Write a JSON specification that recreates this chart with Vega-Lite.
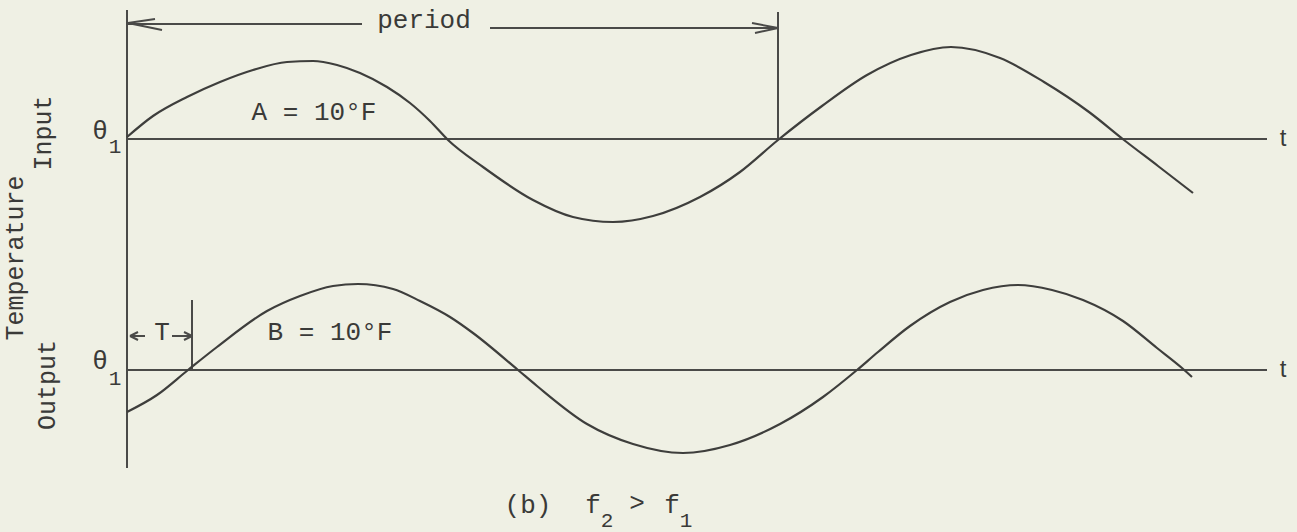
{
  "$schema": "https://vega.github.io/schema/vega-lite/v6.json",
  "width": 1297,
  "height": 532,
  "padding": 0,
  "autosize": {"type": "fit", "contains": "padding"},
  "background": "#eff0e4",
  "config": {"view": {"stroke": null}},
  "datasets": {
    "curves": [
      {"series": "input", "t": 0, "v": 137}, {"series": "input", "t": 26, "v": 116}, {"series": "input", "t": 60, "v": 97},
      {"series": "input", "t": 93, "v": 82}, {"series": "input", "t": 126, "v": 70}, {"series": "input", "t": 160, "v": 62},
      {"series": "input", "t": 186, "v": 61}, {"series": "input", "t": 210, "v": 65}, {"series": "input", "t": 233, "v": 73},
      {"series": "input", "t": 260, "v": 87}, {"series": "input", "t": 283, "v": 103}, {"series": "input", "t": 303, "v": 121},
      {"series": "input", "t": 321, "v": 140},
      {"series": "input", "t": 356, "v": 167}, {"series": "input", "t": 406, "v": 200}, {"series": "input", "t": 446, "v": 217},
      {"series": "input", "t": 486, "v": 222}, {"series": "input", "t": 526, "v": 216}, {"series": "input", "t": 573, "v": 197},
      {"series": "input", "t": 613, "v": 172}, {"series": "input", "t": 651, "v": 140}, {"series": "input", "t": 695, "v": 106},
      {"series": "input", "t": 740, "v": 75}, {"series": "input", "t": 784, "v": 55}, {"series": "input", "t": 824, "v": 47},
      {"series": "input", "t": 873, "v": 58}, {"series": "input", "t": 917, "v": 82}, {"series": "input", "t": 962, "v": 112},
      {"series": "input", "t": 997, "v": 140}, {"series": "input", "t": 1031, "v": 166}, {"series": "input", "t": 1066, "v": 193},
      {"series": "output", "t": 0, "v": 412}, {"series": "output", "t": 30, "v": 395}, {"series": "output", "t": 61, "v": 370},
      {"series": "output", "t": 90, "v": 347}, {"series": "output", "t": 140, "v": 311}, {"series": "output", "t": 173, "v": 296},
      {"series": "output", "t": 206, "v": 286}, {"series": "output", "t": 231, "v": 284}, {"series": "output", "t": 266, "v": 289},
      {"series": "output", "t": 293, "v": 301}, {"series": "output", "t": 323, "v": 317}, {"series": "output", "t": 346, "v": 333},
      {"series": "output", "t": 391, "v": 370}, {"series": "output", "t": 410, "v": 386}, {"series": "output", "t": 460, "v": 424},
      {"series": "output", "t": 506, "v": 444}, {"series": "output", "t": 556, "v": 453}, {"series": "output", "t": 603, "v": 445},
      {"series": "output", "t": 653, "v": 424}, {"series": "output", "t": 696, "v": 397}, {"series": "output", "t": 730, "v": 370},
      {"series": "output", "t": 751, "v": 352}, {"series": "output", "t": 783, "v": 326}, {"series": "output", "t": 823, "v": 302},
      {"series": "output", "t": 856, "v": 290}, {"series": "output", "t": 891, "v": 285}, {"series": "output", "t": 925, "v": 290},
      {"series": "output", "t": 956, "v": 300}, {"series": "output", "t": 996, "v": 321}, {"series": "output", "t": 1030, "v": 348},
      {"series": "output", "t": 1055, "v": 368}, {"series": "output", "t": 1065, "v": 377}
    ],
    "segments": [
      {"name": "axis", "t": 0, "v": 10, "t2": 0, "v2": 468},
      {"name": "input baseline", "t": 0, "v": 139, "t2": 1140, "v2": 139},
      {"name": "output baseline", "t": 0, "v": 370, "t2": 1140, "v2": 370},
      {"name": "period end", "t": 651, "v": 12, "t2": 651, "v2": 139},
      {"name": "period left", "t": 0, "v": 24, "t2": 235, "v2": 24},
      {"name": "period right", "t": 363, "v": 28, "t2": 651, "v2": 28},
      {"name": "left barb up", "t": 1, "v": 23, "t2": 28, "v2": 19},
      {"name": "left barb low", "t": 1, "v": 23, "t2": 35, "v2": 30},
      {"name": "right barb up", "t": 651, "v": 28, "t2": 625, "v2": 23},
      {"name": "right barb low", "t": 651, "v": 28, "t2": 628, "v2": 33},
      {"name": "lag line", "t": 65, "v": 300, "t2": 65, "v2": 370},
      {"name": "lag left", "t": 3, "v": 336, "t2": 18, "v2": 336},
      {"name": "lag left barb up", "t": 3, "v": 336, "t2": 11, "v2": 332},
      {"name": "lag left barb low", "t": 3, "v": 336, "t2": 11, "v2": 340},
      {"name": "lag right", "t": 45, "v": 336, "t2": 65, "v2": 336},
      {"name": "lag right barb up", "t": 65, "v": 336, "t2": 57, "v2": 332},
      {"name": "lag right barb low", "t": 65, "v": 336, "t2": 57, "v2": 340}
    ],
    "mono": [
      {"t": 297, "v": 20, "label": "period"},
      {"t": 187, "v": 112, "label": "A = 10°F"},
      {"t": 203, "v": 332, "label": "B = 10°F"},
      {"t": 35, "v": 332, "label": "T"},
      {"t": -27, "v": 131, "label": "θ"},
      {"t": -27, "v": 361, "label": "θ"},
      {"t": 401, "v": 505, "label": "(b)"},
      {"t": 466, "v": 505, "label": "f"},
      {"t": 510, "v": 503, "label": ">"},
      {"t": 545, "v": 505, "label": "f"}
    ],
    "small": [
      {"t": -12, "v": 147, "label": "1"},
      {"t": -12, "v": 379, "label": "1"},
      {"t": 480, "v": 521, "label": "2"},
      {"t": 559, "v": 521, "label": "1"}
    ],
    "rotated": [
      {"t": -84, "v": 133, "label": "Input"},
      {"t": -112, "v": 258, "label": "Temperature"},
      {"t": -80, "v": 385, "label": "Output"}
    ],
    "sans": [
      {"t": 1156, "v": 139, "label": "t"},
      {"t": 1156, "v": 370, "label": "t"}
    ]
  },
  "encoding": {
    "x": {"field": "t", "type": "quantitative", "scale": {"domain": [-127, 1170], "nice": false, "zero": false}, "axis": null},
    "y": {"field": "v", "type": "quantitative", "scale": {"domain": [0, 532], "nice": false, "zero": false, "reverse": true}, "axis": null}
  },
  "layer": [
    {
      "data": {"name": "segments"},
      "mark": {"type": "rule", "color": "#4a4a48", "strokeWidth": 2},
      "encoding": {
        "x2": {"field": "t2"},
        "y2": {"field": "v2"}
      }
    },
    {
      "data": {"name": "curves"},
      "mark": {"type": "line", "color": "#3e3e3c", "strokeWidth": 2.2, "interpolate": "monotone"},
      "encoding": {"detail": {"field": "series"}}
    },
    {
      "data": {"name": "mono"},
      "mark": {"type": "text", "font": "Liberation Mono", "fontSize": 26, "color": "#3a3a38", "align": "center", "baseline": "middle"},
      "encoding": {"text": {"field": "label"}}
    },
    {
      "data": {"name": "small"},
      "mark": {"type": "text", "font": "Liberation Mono", "fontSize": 21, "color": "#3a3a38", "align": "center", "baseline": "middle"},
      "encoding": {"text": {"field": "label"}}
    },
    {
      "data": {"name": "rotated"},
      "mark": {"type": "text", "font": "Liberation Mono", "fontSize": 25, "angle": 270, "color": "#3a3a38", "align": "center", "baseline": "middle"},
      "encoding": {"text": {"field": "label"}}
    },
    {
      "data": {"name": "sans"},
      "mark": {"type": "text", "font": "Liberation Sans", "fontSize": 24, "color": "#3a3a38", "align": "center", "baseline": "middle"},
      "encoding": {"text": {"field": "label"}}
    }
  ]
}
